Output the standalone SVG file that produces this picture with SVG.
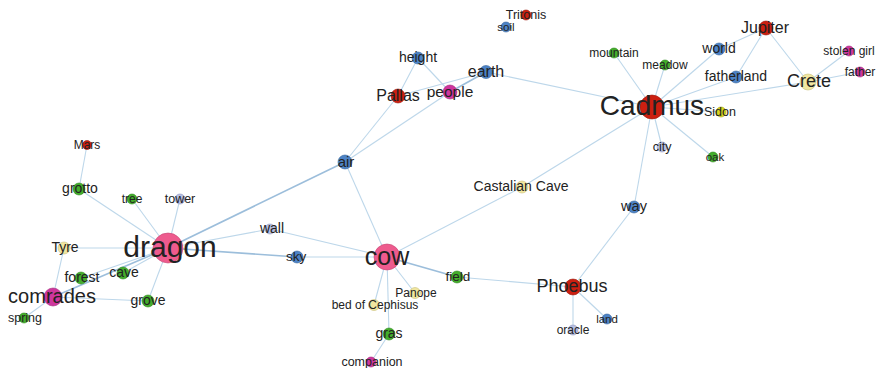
<svg xmlns="http://www.w3.org/2000/svg" width="878" height="368" viewBox="0 0 878 368">
<style>
.e{stroke:#bdd7ea;stroke-width:1.1;fill:none}
.d{stroke:#9cbedb;stroke-width:1.6;fill:none}
text{font-family:"Liberation Sans",Arial,sans-serif;fill:#222;text-anchor:middle}
.red{fill:#cc1f10;stroke:#9a1a0e;stroke-width:0.6}
.pink{fill:#ee5b8e;stroke:#c44674;stroke-width:0.6}
.mag{fill:#cf369e;stroke:#a02a7a;stroke-width:0.6}
.blue{fill:#4d83c6;stroke:#35649c;stroke-width:0.6}
.green{fill:#43ad2b;stroke:#2f8a1e;stroke-width:0.6}
.pale{fill:#f0e6a0;stroke:#c9bf7a;stroke-width:0.6}
.yel{fill:#d8d41e;stroke:#a9a514;stroke-width:0.6}
.lav{fill:#b8c0e2;stroke:#8e97c0;stroke-width:0.6}
</style>
<rect width="878" height="368" fill="#ffffff"/>
<g id="connectors">
<line class="e" x1="87" y1="145" x2="79" y2="189"/>
<line class="e" x1="79" y1="189" x2="168" y2="248"/>
<line class="e" x1="132" y1="199" x2="168" y2="248"/>
<line class="e" x1="180" y1="199" x2="168" y2="248"/>
<line class="e" x1="64" y1="248" x2="168" y2="248"/>
<line class="e" x1="64" y1="248" x2="53" y2="297"/>
<line class="e" x1="81" y1="278" x2="168" y2="248"/>
<line class="e" x1="123" y1="273" x2="168" y2="248"/>
<line class="d" x1="53" y1="297" x2="168" y2="248"/>
<line class="e" x1="53" y1="297" x2="148" y2="301"/>
<line class="e" x1="148" y1="301" x2="168" y2="248"/>
<line class="e" x1="24" y1="318" x2="53" y2="297"/>
<line class="d" x1="168" y1="248" x2="345" y2="162"/>
<line class="e" x1="168" y1="248" x2="270" y2="229"/>
<line class="d" x1="168" y1="248" x2="297" y2="257"/>
<line class="e" x1="270" y1="229" x2="387" y2="257"/>
<line class="e" x1="297" y1="257" x2="387" y2="257"/>
<line class="e" x1="345" y1="162" x2="387" y2="257"/>
<line class="e" x1="345" y1="162" x2="398" y2="96"/>
<line class="e" x1="345" y1="162" x2="450" y2="92"/>
<line class="e" x1="418" y1="58" x2="398" y2="96"/>
<line class="e" x1="418" y1="58" x2="450" y2="92"/>
<line class="e" x1="398" y1="96" x2="486" y2="72"/>
<line class="d" x1="450" y1="92" x2="486" y2="72"/>
<line class="e" x1="486" y1="72" x2="652" y2="107"/>
<line class="e" x1="387" y1="257" x2="522" y2="187"/>
<line class="e" x1="522" y1="187" x2="652" y2="107"/>
<line class="d" x1="387" y1="257" x2="457" y2="277"/>
<line class="e" x1="457" y1="277" x2="573" y2="287"/>
<line class="e" x1="387" y1="257" x2="415" y2="293"/>
<line class="e" x1="387" y1="257" x2="374" y2="305"/>
<line class="e" x1="387" y1="257" x2="389" y2="334"/>
<line class="e" x1="389" y1="334" x2="371" y2="362"/>
<line class="e" x1="573" y1="287" x2="634" y2="207"/>
<line class="e" x1="634" y1="207" x2="652" y2="107"/>
<line class="e" x1="573" y1="287" x2="607" y2="319"/>
<line class="e" x1="573" y1="287" x2="573" y2="330"/>
<line class="e" x1="652" y1="107" x2="614" y2="53"/>
<line class="e" x1="652" y1="107" x2="665" y2="65"/>
<line class="e" x1="652" y1="107" x2="719" y2="49"/>
<line class="e" x1="652" y1="107" x2="736" y2="77"/>
<line class="e" x1="652" y1="107" x2="808" y2="82"/>
<line class="e" x1="652" y1="107" x2="721" y2="112"/>
<line class="e" x1="652" y1="107" x2="662" y2="147"/>
<line class="e" x1="652" y1="107" x2="713" y2="157"/>
<line class="e" x1="766" y1="28" x2="719" y2="49"/>
<line class="e" x1="766" y1="28" x2="736" y2="77"/>
<line class="e" x1="766" y1="28" x2="808" y2="82"/>
<line class="e" x1="808" y1="82" x2="849" y2="51"/>
<line class="e" x1="808" y1="82" x2="860" y2="72"/>
</g>
<g id="n-mars"><circle class="red" cx="87" cy="145" r="4.5"/><text x="87" y="148.6" font-size="12">Mars</text></g>
<g id="n-grotto"><circle class="green" cx="79" cy="189" r="6"/><text x="80" y="193.2" font-size="14">grotto</text></g>
<g id="n-tree"><circle class="green" cx="132" cy="199" r="5"/><text x="132" y="202.6" font-size="12">tree</text></g>
<g id="n-tower"><circle class="lav" cx="180" cy="199" r="5"/><text x="180" y="202.8" font-size="12.5">tower</text></g>
<g id="n-tyre"><circle class="pale" cx="64" cy="248" r="6"/><text x="65" y="252" font-size="14">Tyre</text></g>
<g id="n-dragon"><circle class="pink" cx="168" cy="248" r="15"/><text x="170" y="257" font-size="30">dragon</text></g>
<g id="n-forest"><circle class="green" cx="81" cy="278" r="6"/><text x="82" y="282" font-size="14">forest</text></g>
<g id="n-cave"><circle class="green" cx="123" cy="273" r="6"/><text x="124" y="277" font-size="14">cave</text></g>
<g id="n-comrades"><circle class="mag" cx="53" cy="297" r="9"/><text x="52" y="303" font-size="20">comrades</text></g>
<g id="n-grove"><circle class="green" cx="148" cy="301" r="6"/><text x="148" y="305" font-size="14">grove</text></g>
<g id="n-spring"><circle class="green" cx="24" cy="318" r="5"/><text x="25" y="322" font-size="12.5">spring</text></g>
<g id="n-air"><circle class="blue" cx="345" cy="162" r="7"/><text x="346" y="166.5" font-size="15">air</text></g>
<g id="n-wall"><circle class="lav" cx="270" cy="229" r="5"/><text x="272" y="233" font-size="14">wall</text></g>
<g id="n-sky"><circle class="blue" cx="297" cy="257" r="6"/><text x="296" y="261" font-size="13.5">sky</text></g>
<g id="n-cow"><circle class="pink" cx="387" cy="257" r="13"/><text x="387" y="264.5" font-size="25">cow</text></g>
<g id="n-field"><circle class="green" cx="457" cy="277" r="6"/><text x="458" y="281" font-size="13.5">field</text></g>
<g id="n-panope"><circle class="pale" cx="415" cy="293" r="5.5"/><text x="416" y="296.6" font-size="12">Panope</text></g>
<g id="n-bed"><circle class="pale" cx="374" cy="305" r="5.5"/><text x="375" y="308.6" font-size="12">bed of Cephisus</text></g>
<g id="n-gras"><circle class="green" cx="389" cy="334" r="6"/><text x="389" y="338" font-size="14">gras</text></g>
<g id="n-companion"><circle class="mag" cx="371" cy="362" r="5"/><text x="372" y="365.8" font-size="12.5">companion</text></g>
<g id="n-tritonis"><circle class="red" cx="526" cy="15" r="5"/><text x="526" y="18.8" font-size="12.5">Tritonis</text></g>
<g id="n-soil"><circle class="blue" cx="506" cy="27" r="5"/><text x="506" y="30.5" font-size="11.5">soil</text></g>
<g id="n-height"><circle class="blue" cx="418" cy="58" r="6"/><text x="418" y="62" font-size="14">height</text></g>
<g id="n-earth"><circle class="blue" cx="486" cy="72" r="6.5"/><text x="486" y="77" font-size="16">earth</text></g>
<g id="n-pallas"><circle class="red" cx="398" cy="96" r="7"/><text x="398" y="101" font-size="16">Pallas</text></g>
<g id="n-people"><circle class="mag" cx="450" cy="92" r="7"/><text x="450" y="96.6" font-size="15.5">people</text></g>
<g id="n-jupiter"><circle class="red" cx="766" cy="28" r="7"/><text x="765" y="33" font-size="16">Jupiter</text></g>
<g id="n-world"><circle class="blue" cx="719" cy="49" r="6"/><text x="719" y="53" font-size="14">world</text></g>
<g id="n-mountain"><circle class="green" cx="614" cy="53" r="5"/><text x="614" y="56.6" font-size="12">mountain</text></g>
<g id="n-meadow"><circle class="green" cx="665" cy="65" r="5"/><text x="665" y="68.6" font-size="12">meadow</text></g>
<g id="n-fatherland"><circle class="blue" cx="736" cy="77" r="6"/><text x="736" y="81" font-size="14">fatherland</text></g>
<g id="n-crete"><circle class="pale" cx="808" cy="82" r="8"/><text x="809" y="87.4" font-size="18">Crete</text></g>
<g id="n-stolengirl"><circle class="mag" cx="849" cy="51" r="5"/><text x="849" y="54.6" font-size="12">stolen girl</text></g>
<g id="n-father"><circle class="mag" cx="860" cy="72" r="5"/><text x="860" y="75.6" font-size="12">father</text></g>
<g id="n-cadmus"><circle class="red" cx="652" cy="107" r="12"/><text x="652" y="115.4" font-size="28">Cadmus</text></g>
<g id="n-sidon"><circle class="yel" cx="721" cy="112" r="5"/><text x="720" y="115.8" font-size="12.5">Sidon</text></g>
<g id="n-city"><circle class="lav" cx="662" cy="147" r="5"/><text x="662" y="150.8" font-size="12.5">city</text></g>
<g id="n-oak"><circle class="green" cx="713" cy="157" r="5"/><text x="715" y="160.5" font-size="11.5">oak</text></g>
<g id="n-castalian"><circle class="pale" cx="522" cy="187" r="6"/><text x="521" y="191" font-size="14">Castalian Cave</text></g>
<g id="n-way"><circle class="blue" cx="634" cy="207" r="6"/><text x="634" y="211" font-size="14.5">way</text></g>
<g id="n-phoebus"><circle class="red" cx="573" cy="287" r="8"/><text x="572" y="292.4" font-size="18">Phoebus</text></g>
<g id="n-land"><circle class="blue" cx="607" cy="319" r="5"/><text x="607" y="322.5" font-size="11.5">land</text></g>
<g id="n-oracle"><circle class="lav" cx="573" cy="330" r="5"/><text x="573" y="333.6" font-size="12">oracle</text></g>
</svg>
